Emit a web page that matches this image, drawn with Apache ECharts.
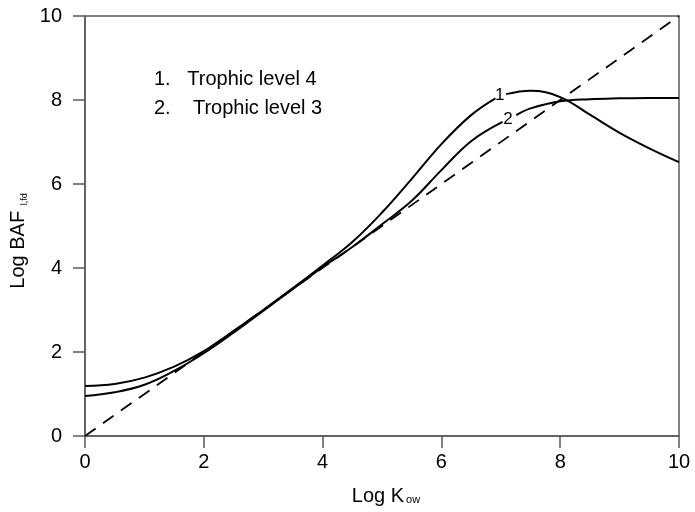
<!DOCTYPE html>
<html>
<head>
<meta charset="utf-8">
<title>Log BAF vs Log Kow</title>
<script src="https://cdn.jsdelivr.net/npm/echarts@6/dist/echarts.min.js"></script>
<style>
    html, body { margin: 0; padding: 0; background: #fff; }
    #chart { width: 695px; height: 512px; }
</style>
</head>
<body>
<div id="chart"></div>
<script>
// 曲线1：营养级4（null 处为标签“1”留出的空隙）
var logKow4 = [0, 0.5, 1, 1.5, 2, 2.5, 3, 3.5, 4, 4.5, 5, 5.5, 6, 6.5, 6.91, 7.0, 7.09, 7.5, 8, 8.5, 9, 9.5, 10];
var baf4 = [1.19, 1.24, 1.39, 1.65, 2.02, 2.5, 3.0, 3.52, 4.06, 4.62, 5.32, 6.12, 6.95, 7.64, 8.04, null, 8.14, 8.22, 8.07, 7.65, 7.22, 6.85, 6.52];
// 曲线2：营养级3
var logKow3 = [0, 0.5, 1, 1.5, 2, 2.5, 3, 3.5, 4, 4.5, 5, 5.5, 6, 6.5, 7.03, 7.15, 7.26, 7.5, 8, 8.5, 9, 9.5, 10];
var baf3 = [0.95, 1.04, 1.22, 1.55, 1.97, 2.46, 2.98, 3.5, 4.02, 4.5, 5.04, 5.6, 6.33, 7.02, 7.48, null, 7.64, 7.8, 7.97, 8.02, 8.04, 8.05, 8.05];
// 1:1 参考线
var refX = [0, 10];
var refY = [0, 10];
// 曲线上的编号标签
var curveLabels = [['1', 6.98, 8.11], ['2', 7.12, 7.54]];
// 图例文字
var legendLines = ['1.   Trophic level 4', '2.    Trophic level 3'];

window.onload = function () {
    initChart();
}

function pairs(xs, ys) {
    return xs.map(function (x, i) {
        return [x, ys[i]];
    });
}

function initChart() {
    var font = 'Liberation Sans, Arial, sans-serif';
    var axisColor = '#5a5a5a';
    var chart = echarts.init(document.getElementById('chart'));

    var axisCommon = {
        type: 'value',
        min: 0,
        max: 10,
        interval: 2,
        nameLocation: 'middle',
        axisLine: { show: true, lineStyle: { color: axisColor, width: 1.5 } },
        axisTick: { show: true, inside: false, length: 12, lineStyle: { color: axisColor, width: 1.5 } },
        splitLine: { show: false },
        axisLabel: { color: '#000', fontSize: 20, fontFamily: font }
    };

    chart.setOption({
        animation: false,
        backgroundColor: '#fff',
        grid: {
            left: 85, right: 16, top: 16, bottom: 76,
            show: true, borderColor: axisColor, borderWidth: 1.5
        },
        xAxis: Object.assign({}, axisCommon, {
            name: '{a|Log K}{b|ow}',
            nameGap: 50,
            nameTextStyle: {
                padding: [0, 0, 0, 8],
                rich: {
                    a: { fontSize: 20, fontFamily: font, color: '#000' },
                    b: { fontSize: 11, fontFamily: font, color: '#000', verticalAlign: 'bottom', padding: [0, 0, 1, 2] }
                }
            },
            axisLabel: Object.assign({}, axisCommon.axisLabel, { margin: 16 })
        }),
        yAxis: Object.assign({}, axisCommon, {
            name: '{a|Log BAF}{b| l,fd}',
            nameGap: 52,
            nameTextStyle: {
                padding: [0, 30, 0, 0],
                rich: {
                    a: { fontSize: 20, fontFamily: font, color: '#000' },
                    b: { fontSize: 9, fontFamily: font, color: '#000', verticalAlign: 'bottom', padding: [0, 0, 0, 3] }
                }
            },
            axisLabel: Object.assign({}, axisCommon.axisLabel, { margin: 23 })
        }),
        graphic: legendLines.map(function (t, i) {
            return {
                type: 'text',
                left: 154,
                top: 69 + i * 29,
                style: { text: t, fontSize: 20, fontFamily: font, fill: '#000' }
            };
        }),
        series: [
            {
                type: 'line',
                data: pairs(refX, refY),
                symbol: 'none',
                lineStyle: { color: '#000', width: 1.8, type: [13, 9] }
            },
            {
                name: 'Trophic level 4',
                type: 'line',
                data: pairs(logKow4, baf4),
                symbol: 'none',
                smooth: 0.4,
                connectNulls: false,
                lineStyle: { color: '#000', width: 2 }
            },
            {
                name: 'Trophic level 3',
                type: 'line',
                data: pairs(logKow3, baf3),
                symbol: 'none',
                smooth: 0.4,
                connectNulls: false,
                lineStyle: { color: '#000', width: 2 }
            },
            {
                type: 'scatter',
                symbolSize: 0,
                itemStyle: { color: '#000', opacity: 1 },
                data: curveLabels.map(function (d) { return [d[1], d[2], d[0]]; }),
                label: {
                    show: true,
                    position: 'inside',
                    formatter: function (p) { return p.value[2]; },
                    fontSize: 17,
                    fontFamily: font,
                    color: '#000',
                    textBorderWidth: 0,
                    textBorderColor: 'transparent'
                }
            }
        ]
    });
}
</script>
</body>
</html>
